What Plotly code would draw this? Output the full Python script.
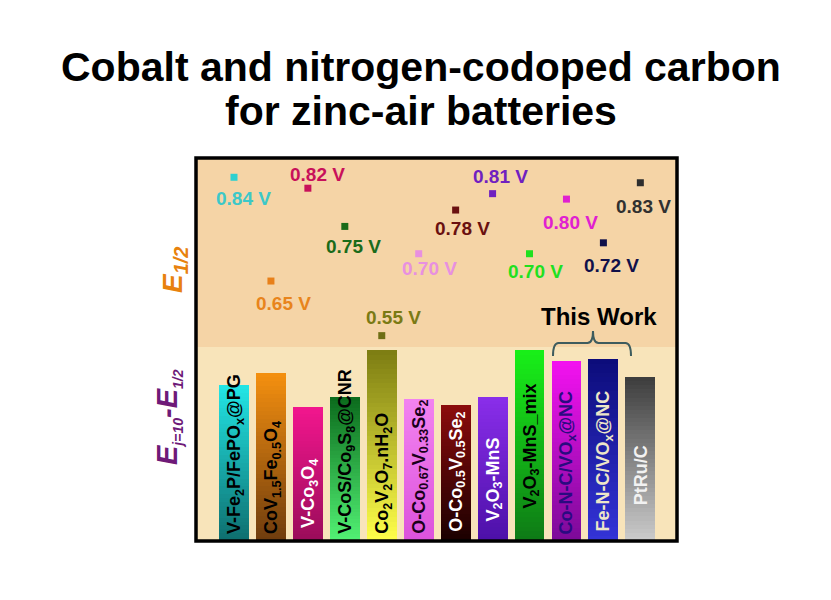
import plotly.graph_objects as go

# ---------------- data ----------------
materials = ["V-Fe2P/FePOx@PG", "CoV1.5Fe0.5O4", "V-Co3O4", "V-CoS/Co9S8@CNR",
             "Co2V2O7.nH2O", "O-Co0.67V0.33Se2", "O-Co0.5V0.5Se2", "V2O3-MnS",
             "V2O3-MnS_mix", "Co-N-C/VOx@NC", "Fe-N-C/VOx@NC", "PtRu/C"]
bar_labels = ["V-Fe<sub>2</sub>P/FePO<sub>x</sub>@PG",
              "CoV<sub>1.5</sub>Fe<sub>0.5</sub>O<sub>4</sub>",
              "V-Co<sub>3</sub>O<sub>4</sub>",
              "V-CoS/Co<sub>9</sub>S<sub>8</sub>@CNR",
              "Co<sub>2</sub>V<sub>2</sub>O<sub>7</sub>.nH<sub>2</sub>O",
              "O-Co<sub>0.67</sub>V<sub>0.33</sub>Se<sub>2</sub>",
              "O-Co<sub>0.5</sub>V<sub>0.5</sub>Se<sub>2</sub>",
              "V<sub>2</sub>O<sub>3</sub>-MnS",
              "V<sub>2</sub>O<sub>3</sub>-MnS_mix",
              "Co-N-C/VO<sub>x</sub>@NC",
              "Fe-N-C/VO<sub>x</sub>@NC",
              "PtRu/C"]
e_half = [0.84, 0.65, 0.82, 0.75, 0.55, 0.70, 0.78, 0.81, 0.70, 0.80, 0.72, 0.83]
delta_e = [0.78, 0.84, 0.67, 0.72, 0.955, 0.71, 0.68, 0.72, 0.955, 0.90, 0.91, 0.82]

# ---------------- styles ----------------
bar_top = ["#22E6E6", "#F5900F", "#F2168E", "#0B6A1C", "#7C7C12", "#F283F0",
           "#8C0C0C", "#8A2EEA", "#18F018", "#F412F0", "#0C0C7A", "#3C3C3C"]
bar_bot = ["#0E6E6E", "#6E3C0E", "#9A0C5A", "#52F274", "#FFFF4A", "#DC52DC",
           "#1A0000", "#4C10A8", "#0E7A16", "#7A0A98", "#3434D8", "#CCCCCC"]
label_text_col = ["#000000", "#000000", "#FFFFFF", "#000000", "#000000", "#1A001A",
                  "#FFFFFF", "#FFFFFF", "#000000", "#2A0A80", "#EDE6C8", "#F2F2F2"]
marker_col = ["#2ED0D0", "#E8801A", "#C8105A", "#1A6B1A", "#6E6E14", "#E890E0",
              "#6A1010", "#7020C0", "#20E020", "#E020D0", "#10104A", "#2E2E2E"]
value_col = ["#3CC8C8", "#E8841C", "#C8105A", "#1A6B1A", "#7A7A14", "#E890E0",
             "#6A1010", "#7020C0", "#20E020", "#E020D0", "#10104A", "#303030"]
# offsets (px) of the value label from its marker: (right, down)
val_off = [(9, 21), (13, 22), (10, -14), (9, 20), (12, -18), (11, 15),
           (7, 18), (8, -17), (6, 18), (4, 23), (8, 23), (3, 24)]
# vertical centre (px) of each rotated bar label
lab_cy = [454, 477, 493, 451, 473, 467, 472, 480, 446, 462, 461, 475]

FONT = "Liberation Sans, Arial, sans-serif"
W, H = 831, 600
L, R, T, B = 196, 677, 158, 541
SPACING = 36.94
X0PX = 234
split_px = 347


def py(px):
    return (B - px) / (B - T)


def px_x(px):
    return (px - L) / (R - L)


def hex2rgb(h):
    h = h.lstrip("#")
    return [int(h[i:i + 2], 16) for i in (0, 2, 4)]


def mix(c1, c2, t):
    a, b = hex2rgb(c1), hex2rgb(c2)
    return "rgb(%d,%d,%d)" % tuple(round(a[i] + (b[i] - a[i]) * t) for i in range(3))


xs = list(range(len(materials)))
fig = go.Figure()

# gradient bars: overlapping bar layers from bottom colour to top colour
N = 40
for k in range(N):
    f = k / N
    fig.add_trace(go.Bar(
        x=xs, y=[v * (1 - f) for v in delta_e], base=[v * f for v in delta_e],
        width=0.81, yaxis="y",
        marker=dict(color=[mix(bar_bot[i], bar_top[i], (k + 0.5) / N) for i in xs],
                    line=dict(width=0)),
        hoverinfo="skip", showlegend=False))

fig.add_trace(go.Scatter(
    x=xs, y=e_half, yaxis="y2", mode="markers",
    marker=dict(symbol="square", size=7, color=marker_col, line=dict(width=0)),
    showlegend=False, customdata=materials,
    hovertemplate="%{customdata}: %{y:.2f} V<extra></extra>"))

ann = []
for i, v in enumerate(e_half):
    dx, dy = val_off[i]
    ann.append(dict(x=i, y=v, xref="x", yref="y2", text="<b>%.2f V</b>" % v,
                    showarrow=False, xshift=dx, yshift=-dy,
                    xanchor="center", yanchor="middle",
                    font=dict(family=FONT, size=19, color=value_col[i])))
for i, t in enumerate(bar_labels):
    ann.append(dict(x=i, y=py(lab_cy[i]), xref="x", yref="paper", text="<b>%s</b>" % t,
                    textangle=-90, showarrow=False, xanchor="center", yanchor="middle",
                    xshift=1, font=dict(family=FONT, size=18, color=label_text_col[i])))

# titles
ann.append(dict(x=px_x(421), y=py(67), xref="paper", yref="paper",
                xanchor="center", yanchor="middle",
                text="<b>Cobalt and nitrogen-codoped carbon</b>", showarrow=False,
                font=dict(family=FONT, size=41, color="#000000")))
ann.append(dict(x=px_x(421), y=py(111), xref="paper", yref="paper",
                xanchor="center", yanchor="middle",
                text="<b>for zinc-air batteries</b>", showarrow=False,
                font=dict(family=FONT, size=41, color="#000000")))
# axis titles
ann.append(dict(x=px_x(174), y=py(270), xref="paper", yref="paper",
                xanchor="center", yanchor="middle",
                text="<b><i>E<sub><span style='font-size:20px'>1/2</span></sub></i></b>",
                textangle=-90, showarrow=False,
                font=dict(family=FONT, size=28, color="#E8820E")))
ann.append(dict(x=px_x(168), y=py(417), xref="paper", yref="paper",
                xanchor="center", yanchor="middle",
                text=("<b><i>E<sub><span style='font-size:14px'>j=10</span></sub>-E"
                      "<sub><span style='font-size:14px'>1/2</span></sub></i></b>"),
                textangle=-90, showarrow=False,
                font=dict(family=FONT, size=29, color="#6E1A78")))
# This Work
ann.append(dict(x=(599 - X0PX) / SPACING, y=py(316), xref="x", yref="paper",
                xanchor="center", yanchor="middle",
                text="<b>This Work</b>", showarrow=False,
                font=dict(family=FONT, size=24, color="#000000")))

xl, xc, xr = (553 - X0PX) / SPACING, (593 - X0PX) / SPACING, (631 - X0PX) / SPACING
yh, ye, yt = py(343), py(356), py(331)
d = 0.15
bracket = (f"M {xl},{ye} Q {xl},{yh} {xl + d},{yh} L {xc - d},{yh} Q {xc},{yh} {xc},{yt} "
           f"Q {xc},{yh} {xc + d},{yh} L {xr - d},{yh} Q {xr},{yh} {xr},{ye}")

shapes = [
    dict(type="rect", xref="paper", yref="paper", x0=0, x1=1, y0=py(split_px), y1=1,
         fillcolor="#F5D4A6", line=dict(width=0), layer="below"),
    dict(type="rect", xref="paper", yref="paper", x0=0, x1=1, y0=0, y1=py(split_px),
         fillcolor="#F8E4BA", line=dict(width=0), layer="below"),
    dict(type="path", xref="x", yref="paper", path=bracket,
         line=dict(color="#3E5C5E", width=2)),
    dict(type="rect", xref="paper", yref="paper", x0=0, x1=1, y0=0, y1=1,
         line=dict(color="#000000", width=3.5), layer="above"),
]

r0 = -(X0PX - L) / SPACING
r1 = r0 + (R - L) / SPACING
dom_split = py(split_px)
fig.update_layout(
    width=W, height=H, margin=dict(l=L, r=W - R, t=T, b=H - B),
    paper_bgcolor="#FFFFFF", plot_bgcolor="rgba(0,0,0,0)",
    barmode="overlay", bargap=0,
    xaxis=dict(range=[r0, r1], showgrid=False, zeroline=False, showticklabels=False,
               ticks="", showline=False, fixedrange=True),
    yaxis=dict(domain=[0, dom_split], range=[0, 0.97], showgrid=False, zeroline=False,
               showticklabels=False, ticks="", showline=False),
    yaxis2=dict(domain=[dom_split, 1], range=[0.5292, 0.8753], showgrid=False,
                zeroline=False, showticklabels=False, ticks="", showline=False,
                anchor="x"),
    annotations=ann, shapes=shapes, font=dict(family=FONT), showlegend=False,
)

fig.write_html("out.html")
